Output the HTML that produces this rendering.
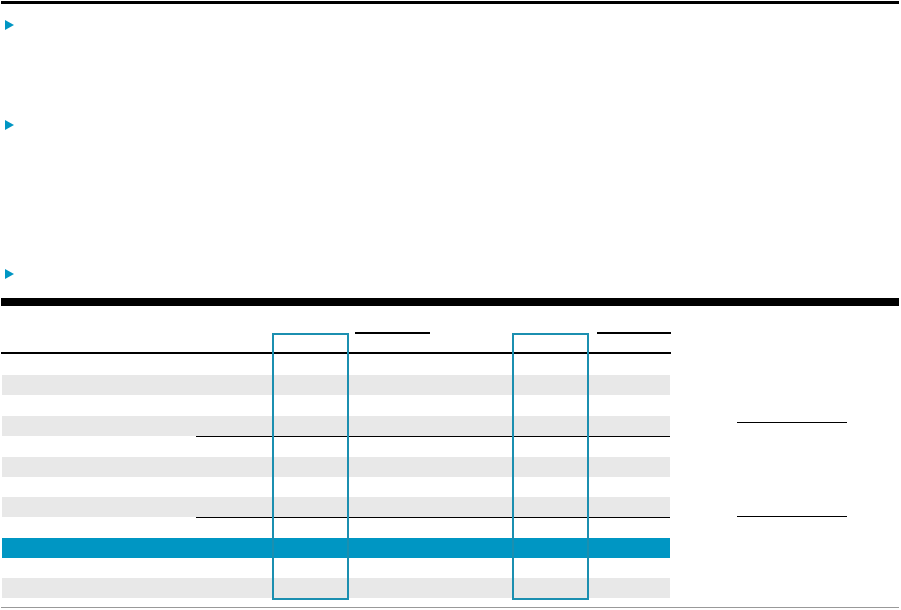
<!DOCTYPE html>
<html><head><style>
body{margin:0;width:901px;height:610px;background:#fff;position:relative;overflow:hidden;font-family:"Liberation Sans",sans-serif}
div{position:absolute}
.tri{width:0;height:0;border-top:5px solid transparent;border-bottom:5px solid transparent;border-left:9px solid #0096c3;left:5px}
.g{background:#e8e8e8;left:2px;width:668px;height:20px}
</style></head><body>
<div style="left:1px;top:1px;width:898px;height:3px;background:#000"></div>
<div class="tri" style="top:20px"></div>
<div class="tri" style="top:120px"></div>
<div class="tri" style="top:269px"></div>
<div style="left:1px;top:298px;width:898px;height:8px;background:#000"></div>
<div style="left:355px;top:332px;width:75px;height:2px;background:#000"></div>
<div style="left:597px;top:332px;width:74px;height:2px;background:#000"></div>
<div style="left:1px;top:352px;width:670px;height:2px;background:#000"></div>
<div class="g" style="top:375px"></div>
<div class="g" style="top:416px"></div>
<div class="g" style="top:457px"></div>
<div class="g" style="top:497px"></div>
<div class="g" style="top:578px"></div>
<div style="left:196px;top:436px;width:474px;height:1px;background:#000"></div>
<div style="left:196px;top:517px;width:474px;height:1px;background:#000"></div>
<div style="left:2px;top:538px;width:668px;height:20px;background:#0096c3"></div>
<div style="left:272px;top:333px;width:73px;height:263px;border:2px solid #1b8fb0"></div>
<div style="left:512px;top:333px;width:73px;height:263px;border:2px solid #1b8fb0"></div>
<div style="left:737px;top:422px;width:110px;height:1px;background:#000"></div>
<div style="left:737px;top:516px;width:110px;height:1px;background:#000"></div>
<div style="left:1px;top:607px;width:898px;height:1px;background:#999"></div>
</body></html>
